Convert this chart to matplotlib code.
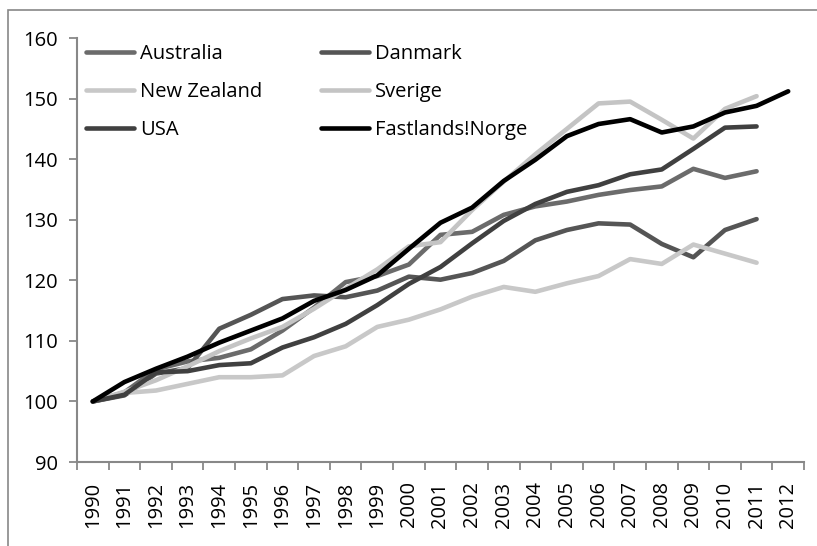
import matplotlib
matplotlib.use("Agg")
import matplotlib.pyplot as plt
from matplotlib.patches import Rectangle

years = [str(y) for y in range(1990, 2013)]
australia = [100, 101.5, 105.3, 106.6, 107.2, 108.6, 111.7, 115.5, 119.7, 120.7, 122.6, 127.5,
             128.0, 130.8, 132.2, 133.0, 134.1, 134.9, 135.5, 138.4, 136.9, 138.0]
danmark = [100, 101.0, 104.6, 105.5, 112.0, 114.3, 116.9, 117.5, 117.2, 118.3, 120.6, 120.1,
           121.2, 123.2, 126.6, 128.3, 129.4, 129.2, 126.0, 123.8, 128.3, 130.1]
new_zealand = [100, 101.4, 101.8, 102.9, 104.0, 104.0, 104.3, 107.5, 109.1, 112.3, 113.5, 115.2,
               117.3, 118.9, 118.1, 119.5, 120.7, 123.5, 122.7, 125.9, 124.4, 122.9]
sverige = [100, 101.6, 103.5, 105.8, 108.3, 110.4, 112.3, 115.3, 118.6, 121.8, 125.6, 126.3,
           131.6, 136.3, 140.8, 145.0, 149.2, 149.5, 146.5, 143.4, 148.3, 150.4]
usa = [100, 101.1, 104.8, 105.0, 106.0, 106.3, 108.9, 110.6, 112.8, 115.9, 119.4, 122.2,
       126.1, 129.8, 132.6, 134.6, 135.7, 137.5, 138.3, 141.7, 145.2, 145.4]
norge = [100, 103.2, 105.4, 107.4, 109.7, 111.7, 113.7, 116.6, 118.4, 120.8, 125.2, 129.5,
         132.0, 136.4, 139.9, 143.8, 145.8, 146.6, 144.4, 145.4, 147.7, 148.8, 151.2]
yticks = [90, 100, 110, 120, 130, 140, 150, 160]

series = [
    ("Australia", australia, "#6b6b6b"),
    ("Danmark", danmark, "#555555"),
    ("New Zealand", new_zealand, "#c8c8c8"),
    ("Sverige", sverige, "#c4c4c4"),
    ("USA", usa, "#404040"),
    ("Fastlands!Norge", norge, "#000000"),
]

plt.rcParams['font.family'] = ['Open Sans', 'DejaVu Sans']
FS = 14.5
LW = 3.3
W, H = 817, 546
fig = plt.figure(figsize=(W / 100, H / 100), dpi=100)
ax = fig.add_axes([77 / W, 1 - 462 / H, (804 - 77) / W, (462 - 38) / H])

x = list(range(len(years)))
handles = {}
for name, vals, col in series:
    ln, = ax.plot(x[:len(vals)], vals, color=col, lw=LW, label=name, solid_capstyle='round',
                  solid_joinstyle='round')
    handles[name] = ln

ax.set_xlim(-0.5, len(years) - 0.5)
ax.set_ylim(90, 160)
ax.set_yticks(yticks)
ax.set_xticks(x)
ax.set_xticklabels(years, rotation=90, fontsize=FS)
ax.set_xticks([i - 0.5 for i in range(len(years) + 1)], minor=True)
ax.tick_params(axis='x', which='major', length=0, pad=14)
ax.tick_params(axis='x', which='minor', length=6, width=1.3, color='#888888')
ax.tick_params(axis='y', labelsize=FS, length=6, width=1.3, color='#888888', pad=8)
for s in ['top', 'right']:
    ax.spines[s].set_visible(False)
for s in ['left', 'bottom']:
    ax.spines[s].set_color('#888888')
    ax.spines[s].set_linewidth(1.5)

order = ["Australia", "New Zealand", "USA", "Danmark", "Sverige", "Fastlands!Norge"]
leg = ax.legend([handles[n] for n in order], order, ncol=2, frameon=False, loc='upper left',
                bbox_to_anchor=(86 / W, 1 - 44 / H), bbox_transform=fig.transFigure,
                borderaxespad=0, borderpad=0, fontsize=FS, handlelength=2.4,
                handletextpad=0.3, labelspacing=0.9, columnspacing=2.9)
for lh in leg.get_lines():
    lh.set_linewidth(LW)

fig.patches.append(Rectangle((8 / W, -0.1), 2.0, 1 - 10 / H + 0.1, transform=fig.transFigure,
                             fill=False, edgecolor='#888888', lw=1.2))

fig.savefig("out.png", dpi=100)
